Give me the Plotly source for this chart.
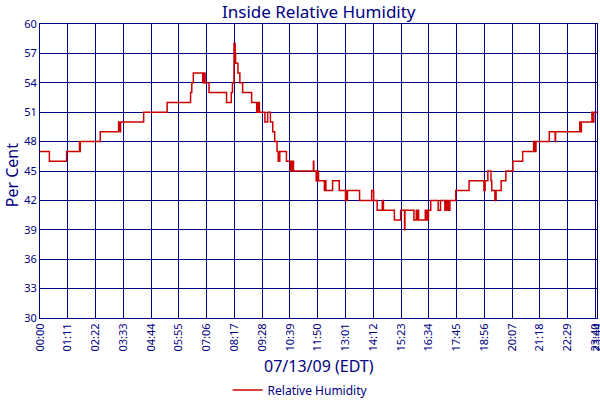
import plotly.graph_objects as go

times = ["00:00", "00:24", "01:08", "01:41", "01:42", "01:43", "02:34", "03:21", "03:22", "03:24",
         "03:25", "03:26", "04:25", "05:25", "06:25", "06:28", "06:32", "06:56", "06:57", "06:59",
         "07:00", "07:02", "07:12", "07:57", "08:09", "08:12", "08:16", "08:19", "08:20", "08:26",
         "08:31", "08:38", "09:01", "09:14", "09:15", "09:17", "09:19", "09:21", "09:35", "09:42",
         "09:49", "09:55", "10:00", "10:06", "10:09", "10:13", "10:30", "10:40", "10:42", "10:44",
         "10:46", "10:48", "11:39", "11:40", "11:46", "11:47", "11:49", "11:50", "11:52", "12:07",
         "12:09", "12:11", "12:28", "12:45", "13:01", "13:02", "13:04", "13:06", "13:37", "14:08",
         "14:13", "14:22", "14:35", "14:38", "15:06", "15:22", "15:32", "15:33", "15:56", "16:02",
         "16:04", "16:05", "16:08", "16:25", "16:27", "16:29", "16:31", "16:33", "16:39", "16:58",
         "17:04", "17:15", "17:17", "17:19", "17:21", "17:24", "17:28", "17:43", "18:17", "18:55",
         "18:58", "19:05", "19:13", "19:15", "19:23", "19:26", "19:39", "19:51", "20:09", "20:34",
         "21:02", "21:03", "21:05", "21:06", "21:08", "21:42", "21:57", "21:58", "23:00", "23:01",
         "23:02", "23:03", "23:04", "23:31", "23:32", "23:36", "23:44"]
humidity = [47, 46, 47, 48, 47, 48, 49, 50, 49, 50,
            49, 50, 51, 52, 53, 54, 55, 54, 55, 54,
            55, 54, 53, 52, 53, 54, 58, 57, 56, 55,
            54, 53, 52, 51, 52, 51, 52, 51, 50, 51,
            50, 49, 48, 47, 46, 47, 46, 45, 46, 45,
            46, 45, 46, 45, 44, 45, 44, 45, 44, 43,
            44, 43, 44, 43, 42, 43, 42, 43, 42, 43,
            42, 41, 42, 41, 40, 41, 39, 41, 40, 41,
            40, 41, 40, 41, 40, 41, 40, 41, 42, 41,
            42, 41, 42, 41, 42, 41, 42, 43, 44, 43,
            44, 45, 44, 43, 42, 43, 44, 45, 46, 47,
            48, 47, 48, 47, 48, 49, 48, 49, 50, 49,
            50, 49, 50, 51, 50, 51, 51]

x_tick_labels = ["00:00", "01:11", "02:22", "03:33", "04:44", "05:55", "07:06", "08:17", "09:28",
                 "10:39", "11:50", "13:01", "14:12", "15:23", "16:34", "17:45", "18:56", "20:07",
                 "21:18", "22:29", "23:40", "23:44"]
y_ticks = [30, 33, 36, 39, 42, 45, 48, 51, 54, 57, 60]

DATE = "2009-07-13 "
NAVY = "#000080"
FONT = "Noto Sans"

x_vals = [DATE + t for t in times]
tick_vals = [DATE + t for t in x_tick_labels]

fig = go.Figure()
fig.add_trace(go.Scatter(
    x=x_vals, y=humidity, mode="lines", line=dict(color="#CC0000", width=1.5, shape="hv"),
    name="Relative Humidity"))

fig.update_layout(
    width=600, height=400,
    margin=dict(l=40, r=3, t=24, b=82, autoexpand=False),
    paper_bgcolor="white", plot_bgcolor="white",
    font=dict(family=FONT, color=NAVY),
    showlegend=True,
    legend=dict(orientation="h", x=0.467, xanchor="center", y=-0.245, yanchor="middle",
                itemwidth=30, font=dict(size=12, color=NAVY, family=FONT)),
    annotations=[
        dict(text="Inside Relative Humidity", xref="paper", yref="paper", x=0.5, y=1.042,
             xanchor="center", yanchor="middle", showarrow=False,
             font=dict(size=17, color=NAVY, family=FONT)),
        dict(text="Per Cent", xref="paper", yref="paper", x=-0.050, y=0.486,
             xanchor="center", yanchor="middle", textangle=-90, showarrow=False,
             font=dict(size=16, color=NAVY, family=FONT)),
        dict(text="07/13/09 (EDT)", xref="paper", yref="paper", x=0.5, y=-0.163,
             xanchor="center", yanchor="middle", showarrow=False,
             font=dict(size=16, color=NAVY, family=FONT)),
    ],
)
fig.update_xaxes(
    type="date", range=[DATE + "00:00", DATE + "23:44"], automargin=False,
    tickmode="array", tickvals=tick_vals, ticktext=x_tick_labels, tickangle=-90,
    tickfont=dict(size=11, color=NAVY), ticks="", ticklabeloverflow="allow",
    showgrid=True, gridcolor=NAVY, gridwidth=1,
    showline=True, linecolor=NAVY, linewidth=1, mirror=True, zeroline=False,
)
fig.update_yaxes(
    range=[30, 60], tickmode="array", tickvals=y_ticks, ticks="", automargin=False,
    tickfont=dict(size=11, color=NAVY), ticklabeloverflow="allow",
    showgrid=True, gridcolor=NAVY, gridwidth=1,
    showline=True, linecolor=NAVY, linewidth=1, mirror=True, zeroline=False,
)

fig.write_html("out.html", config={"displayModeBar": False},
               post_script="document.body.style.margin='0';document.body.style.overflow='hidden';")
